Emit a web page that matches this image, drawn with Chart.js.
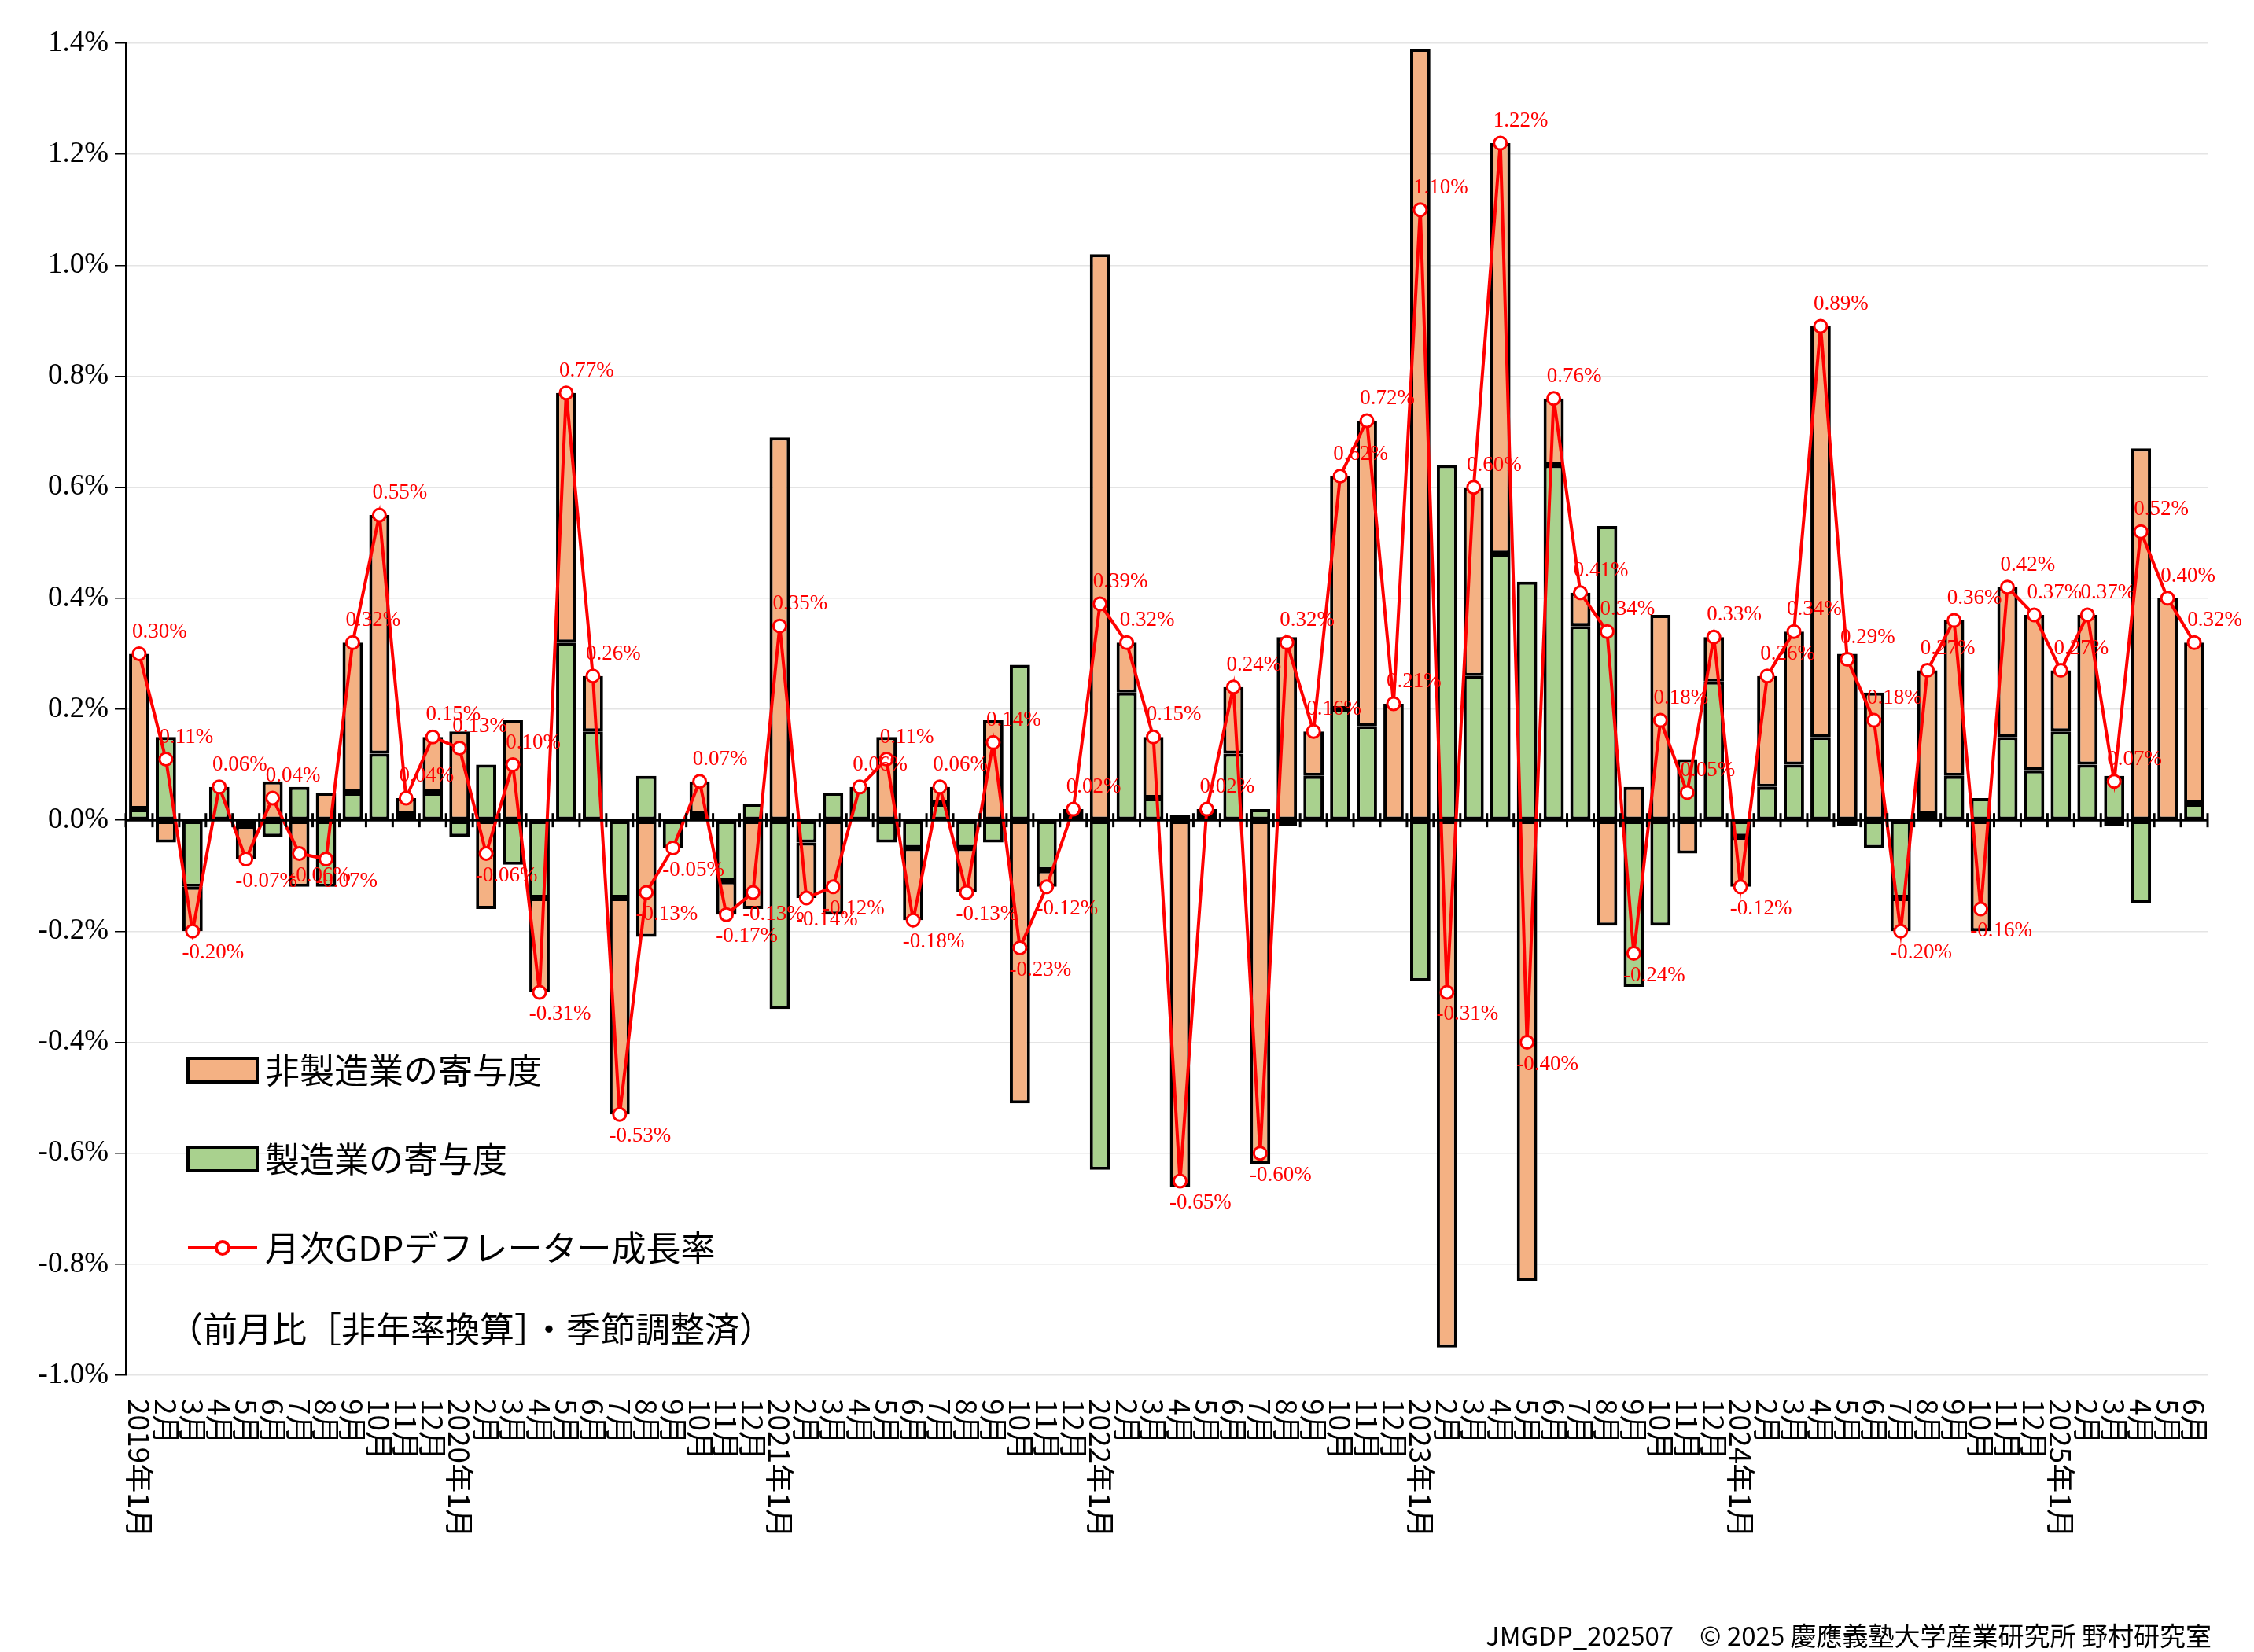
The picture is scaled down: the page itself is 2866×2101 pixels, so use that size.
<!DOCTYPE html>
<html>
<head>
<meta charset="utf-8">
<script src="https://cdn.jsdelivr.net/npm/chart.js"></script>
<style>
  body { margin: 0; background: #fff; }
  #wrap { width: 2866px; height: 2101px; position: relative; }
</style>
</head>
<body>
<div id="wrap"><canvas id="c"></canvas></div>
<script>
// 2019年1月 ～ 2025年6月
const years = [2019, 2020, 2021, 2022, 2023, 2024, 2025];
const months = [];
years.forEach(y => {
  for (let m = 1; m <= 12; m++) {
    if (y === 2025 && m > 6) break;
    months.push(m === 1 ? y + '年' + m + '月' : m + '月');
  }
});

// 非製造業の寄与度 (%)
const nonManufacturing = [
  0.28, -0.04, -0.08, 0.00, -0.06, 0.07, -0.12, 0.05, 0.27, 0.43, 0.03, 0.10,
  0.16, -0.16, 0.18, -0.17, 0.45, 0.10, -0.39, -0.21, 0.00, 0.06, -0.06, -0.16,
  0.69, -0.10, -0.17, 0.00, 0.15, -0.13, 0.03, -0.08, 0.18, -0.51, -0.03, 0.01,
  1.02, 0.09, 0.11, -0.66, 0.01, 0.12, -0.62, 0.33, 0.08, 0.42, 0.55, 0.21,
  1.39, -0.95, 0.34, 0.74, -0.83, 0.12, 0.06, -0.19, 0.06, 0.37, -0.06, 0.08,
  -0.09, 0.20, 0.24, 0.74, 0.30, 0.23, -0.06, 0.26, 0.28, -0.20, 0.27, 0.28,
  0.11, 0.27, -0.01, 0.67, 0.40, 0.29
];
// 製造業の寄与度 (%)
const manufacturing = [
  0.02, 0.15, -0.12, 0.06, -0.01, -0.03, 0.06, -0.12, 0.05, 0.12, 0.01, 0.05,
  -0.03, 0.10, -0.08, -0.14, 0.32, 0.16, -0.14, 0.08, -0.05, 0.01, -0.11, 0.03,
  -0.34, -0.04, 0.05, 0.06, -0.04, -0.05, 0.03, -0.05, -0.04, 0.28, -0.09, 0.01,
  -0.63, 0.23, 0.04, 0.01, 0.01, 0.12, 0.02, -0.01, 0.08, 0.20, 0.17, 0.00,
  -0.29, 0.64, 0.26, 0.48, 0.43, 0.64, 0.35, 0.53, -0.30, -0.19, 0.11, 0.25,
  -0.03, 0.06, 0.10, 0.15, -0.01, -0.05, -0.14, 0.01, 0.08, 0.04, 0.15, 0.09,
  0.16, 0.10, 0.08, -0.15, 0.00, 0.03
];
// 月次GDPデフレーター成長率 (%)
const deflator = [
  0.30, 0.11, -0.20, 0.06, -0.07, 0.04, -0.06, -0.07, 0.32, 0.55, 0.04, 0.15,
  0.13, -0.06, 0.10, -0.31, 0.77, 0.26, -0.53, -0.13, -0.05, 0.07, -0.17, -0.13,
  0.35, -0.14, -0.12, 0.06, 0.11, -0.18, 0.06, -0.13, 0.14, -0.23, -0.12, 0.02,
  0.39, 0.32, 0.15, -0.65, 0.02, 0.24, -0.60, 0.32, 0.16, 0.62, 0.72, 0.21,
  1.10, -0.31, 0.60, 1.22, -0.40, 0.76, 0.41, 0.34, -0.24, 0.18, 0.05, 0.33,
  -0.12, 0.26, 0.34, 0.89, 0.29, 0.18, -0.20, 0.27, 0.36, -0.16, 0.42, 0.37,
  0.27, 0.37, 0.07, 0.52, 0.40, 0.32
];
const yTicks = [1.4, 1.2, 1.0, 0.8, 0.6, 0.4, 0.2, 0.0, -0.2, -0.4, -0.6, -0.8, -1.0];

const SERIF = 'Liberation Serif, DejaVu Serif, serif';
const JP = '"Noto Sans CJK JP", "Liberation Serif", serif';
const ORANGE = '#F4B183', GREEN = '#A9D18E', RED = '#FF0000';

const decorations = {
  id: 'decorations',
  afterDraw(chart) {
    const ctx = chart.ctx, xs = chart.scales.x, ys = chart.scales.y;
    const area = chart.chartArea;
    const y0 = ys.getPixelForValue(0);
    ctx.save();
    // zero line with category ticks
    ctx.strokeStyle = '#000'; ctx.lineWidth = 3;
    ctx.beginPath(); ctx.moveTo(area.left, y0); ctx.lineTo(area.right, y0); ctx.stroke();
    const step = (area.right - area.left) / months.length;
    for (let i = 0; i <= months.length; i++) {
      const x = area.left + step * i;
      ctx.beginPath(); ctx.moveTo(x, y0 - 9); ctx.lineTo(x, y0 + 9); ctx.stroke();
    }
    // x labels, rotated clockwise
    ctx.fillStyle = '#000'; ctx.font = '37px ' + JP;
    ctx.textAlign = 'left'; ctx.textBaseline = 'middle';
    months.forEach((m, i) => {
      const x = xs.getPixelForValue(i);
      ctx.save(); ctx.translate(x, area.bottom + 30); ctx.rotate(Math.PI / 2);
      ctx.fillText(m, 0, 0); ctx.restore();
    });
    // data labels for the line
    const meta = chart.getDatasetMeta(0);
    ctx.fillStyle = RED; ctx.font = '27px ' + SERIF; ctx.textAlign = 'center';
    meta.data.forEach((p, i) => {
      const v = deflator[i];
      const off = v >= 0 ? -28 : 28;
      ctx.fillText(v.toFixed(2) + '%', p.x + 26, p.y + off);
    });
    // legend
    const lx = 239;
    ctx.font = '44px ' + JP; ctx.textAlign = 'left'; ctx.fillStyle = '#000';
    [[ORANGE, '非製造業の寄与度', 1361], [GREEN, '製造業の寄与度', 1474]].forEach(([c, t, y]) => {
      ctx.fillStyle = c; ctx.fillRect(lx, y - 15, 88, 30);
      ctx.strokeStyle = '#000'; ctx.lineWidth = 4; ctx.strokeRect(lx, y - 15, 88, 30);
      ctx.fillStyle = '#000'; ctx.fillText(t, lx + 98, y);
    });
    ctx.strokeStyle = RED; ctx.lineWidth = 4;
    ctx.beginPath(); ctx.moveTo(lx, 1587); ctx.lineTo(lx + 88, 1587); ctx.stroke();
    ctx.fillStyle = '#fff'; ctx.beginPath(); ctx.arc(lx + 44, 1587, 8, 0, Math.PI * 2); ctx.fill(); ctx.stroke();
    ctx.fillStyle = '#000'; ctx.fillText('月次GDPデフレーター成長率', lx + 98, 1587);
    ctx.fillText('（前月比［非年率換算］・季節調整済）', lx - 25, 1690);
    // footer
    ctx.font = '33px ' + JP; ctx.textAlign = 'right';
    ctx.fillText('JMGDP_202507　© 2025 慶應義塾大学産業研究所 野村研究室', 2812, 2080);
    ctx.restore();
  }
};

new Chart(document.getElementById('c'), {
  data: {
    labels: months,
    datasets: [
      { type: 'line', label: '月次GDPデフレーター成長率', data: deflator, order: 0,
        borderColor: RED, borderWidth: 4, pointRadius: 8, pointBackgroundColor: '#fff',
        pointBorderColor: RED, pointBorderWidth: 3, tension: 0, stack: 'line' },
      { type: 'bar', label: '非製造業の寄与度', data: nonManufacturing, order: 2, stack: 's',
        backgroundColor: ORANGE, borderColor: '#000', borderWidth: 4, borderSkipped: false,
        categoryPercentage: 1, barPercentage: 0.76 },
      { type: 'bar', label: '製造業の寄与度', data: manufacturing, order: 1, stack: 's',
        backgroundColor: GREEN, borderColor: '#000', borderWidth: 4, borderSkipped: false,
        categoryPercentage: 1, barPercentage: 0.76 }
    ]
  },
  options: {
    responsive: true, maintainAspectRatio: false, animation: false, devicePixelRatio: 1,
    layout: { padding: { top: 55, right: 59, bottom: 352, left: 0 } },
    plugins: { legend: { display: false }, tooltip: { enabled: false } },
    scales: {
      x: { stacked: true, offset: true, grid: { display: false }, border: { display: false },
           ticks: { display: false }, afterFit: s => { s.height = 0; } },
      y: { stacked: true, min: -1.0, max: 1.4,
           afterFit: s => { s.width = 160; },
           afterBuildTicks: s => { s.ticks = yTicks.map(v => ({ value: v })); },
           border: { display: true, color: '#000', width: 3 },
           grid: { color: '#e4e4e4', lineWidth: 1.5, drawTicks: true, tickLength: 14, tickColor: '#000',
                   tickBorderDash: [], borderDash: [5, 4] },
           ticks: { color: '#000', font: { family: SERIF, size: 37 }, padding: 8,
                    callback: v => v.toFixed(1) + '%' } }
    }
  },
  plugins: [decorations]
});
</script>
</body>
</html>
